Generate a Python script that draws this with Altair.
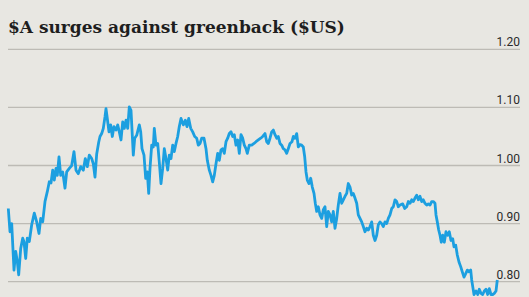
import altair as alt
import pandas as pd

title_text = "$A surges against greenback ($US)"
tick_values = [0.80, 0.90, 1.00, 1.10, 1.20]
tick_labels = ["0.80", "0.90", "1.00", "1.10", "1.20"]

# time index (read positions along the time axis) and AUD/USD values
t = [8.3, 10, 11.7, 14, 15.7, 17.3, 18.7, 20.7, 22.7, 24, 25.7, 27.3, 29.3, 31.7, 34.3, 36.7, 39, 40.7, 42.7,
     45, 47.3, 49.3, 51, 52.7, 54.3, 56, 57.3, 59, 60.7, 62.7, 65, 66.7, 69.3, 71.7, 74, 76, 78.3, 80.7, 83.3,
     85.3, 87.3, 89.3, 91.7, 93.3, 95, 96.7, 98.7, 100,
     101.7, 103.3, 105, 106, 107.3, 109, 110.7, 112.3, 114, 116, 117.7, 119.3, 121, 122.7, 124.3, 126, 127.7,
     129.3, 131, 132.3, 133.3, 134.7, 136.7, 139.3, 140.7, 142, 144, 145.7, 147.3, 148.7, 150, 151.7, 153.3,
     154.3, 156, 157.7, 159.3, 161, 162.7, 164.3, 166, 167.7, 169.3, 171, 172.7, 174.3, 176, 177.7, 179.3,
     181, 183.3, 185.3, 187, 188.7, 190.7, 192.7, 194.7, 196.7, 198.3, 200,
     201.7, 204, 206, 207.3, 209.3, 211, 212.7, 214.3, 216, 217.7, 219.3, 221, 222.7, 224.3, 226, 227.7,
     229.3, 231, 232.7, 234.3, 236, 237.7, 239.3, 241, 242.7, 244.3, 246, 247.3, 249.3, 251.7, 254, 256,
     258.3, 260.7, 262.7, 265, 266.7, 268.3, 270, 271.7, 273.3, 275, 276.7, 278.3, 280, 281.7, 283.3, 285,
     286.7, 288.3, 290, 292, 293.3, 295, 296.7, 298.3, 300,
     301.7, 303.3, 304.7, 306, 307.3, 309, 310.7, 312.3, 314, 315.3, 316.7, 318.3, 320, 321.7, 323.3, 325,
     326.7, 328.3, 330, 331.7, 333.3, 335, 336.7, 338.3, 340, 341.7, 343.3, 345, 346.7, 348.3, 350, 351.7,
     353.3, 355, 356.7, 358.3, 360, 361.7, 363.3, 365, 366.7, 368.3, 370, 371.7, 373.3, 375, 376.7, 378.3,
     380, 381.7, 383.3, 385, 386.7, 388.3, 390, 391.7, 393.3, 395, 396.7, 398.3, 400,
     402.7, 404.7, 406.7, 408.3, 410, 411.7, 413.3, 415, 416.7, 418.3, 420, 421.7, 423.3, 425, 426.7, 428.3,
     430, 431.7, 433.3, 435, 436, 437.3, 438.7, 440, 441.3, 442.7, 444.3, 446, 447.7, 449.3, 451, 452.7, 454,
     455.7, 457.3, 459, 460.7, 462.3, 464, 465.7, 467.3, 469, 470.7, 471.7, 472.7, 474, 476, 477.7, 479.3,
     481, 482.7, 484.3, 486, 487.7, 489.3, 491, 492.7, 494.3, 496, 497.3]

aud = [0.926, 0.886, 0.900, 0.820, 0.852, 0.835, 0.812, 0.857, 0.875, 0.869, 0.840, 0.875, 0.869, 0.898,
       0.918, 0.903, 0.883, 0.909, 0.903, 0.938, 0.955, 0.972, 0.970, 0.992, 0.975, 0.995, 0.983, 1.015,
       0.983, 0.989, 0.961, 0.989, 0.995, 1.000, 1.024, 0.992, 0.986, 0.998, 0.992, 1.012, 0.998, 1.018,
       1.012, 1.003, 0.980, 1.020, 1.040, 1.050,
       1.055, 1.064, 1.084, 1.098, 1.081, 1.058, 1.070, 1.050, 1.067, 1.061, 1.070, 1.058, 1.044, 1.075,
       1.064, 1.078, 1.064, 1.101, 1.095, 1.052, 1.018, 1.047, 1.052, 1.070, 1.058, 1.029, 1.018, 0.978,
       0.989, 0.952, 0.995, 1.035, 1.032, 1.064, 1.035, 1.038, 1.006, 0.969, 0.995, 1.029, 1.012, 0.992,
       1.018, 1.012, 1.035, 1.024, 1.038, 1.050, 1.067, 1.081, 1.070, 1.078, 1.067, 1.081, 1.064, 1.058,
       1.050, 1.047, 1.035, 1.038,
       1.047, 1.047, 1.029, 1.009, 0.992, 0.983, 0.972, 0.983, 1.003, 1.021, 1.009, 1.027, 1.029, 1.021,
       1.041, 1.047, 1.055, 1.058, 1.050, 1.053, 1.035, 1.044, 1.021, 1.053, 1.047, 1.035, 1.029, 1.021,
       1.035, 1.035, 1.038, 1.041, 1.044, 1.047, 1.050, 1.055, 1.041, 1.038, 1.047, 1.058, 1.061, 1.053,
       1.047, 1.050, 1.038, 1.035, 1.029, 1.027, 1.021, 1.029, 1.038, 1.041, 1.050, 1.047, 1.055, 1.032,
       1.036,
       1.035, 1.032, 1.015, 0.989, 0.975, 0.969, 0.978, 0.963, 0.952, 0.935, 0.921, 0.929, 0.915, 0.909,
       0.924, 0.929, 0.895, 0.921, 0.915, 0.903, 0.921, 0.892, 0.909, 0.932, 0.952, 0.935, 0.941, 0.947,
       0.952, 0.969, 0.963, 0.949, 0.952, 0.944, 0.935, 0.915, 0.909, 0.903, 0.895, 0.886, 0.892, 0.889,
       0.895, 0.903, 0.880, 0.871, 0.880, 0.898, 0.903, 0.900, 0.895, 0.903, 0.900, 0.909, 0.915, 0.926,
       0.929, 0.941, 0.938, 0.929, 0.932,
       0.934, 0.926, 0.929, 0.938, 0.935, 0.941, 0.938, 0.944, 0.949, 0.941, 0.947, 0.938, 0.941, 0.935,
       0.932, 0.934, 0.932, 0.938, 0.938, 0.935, 0.915, 0.903, 0.889, 0.880, 0.868, 0.880, 0.868, 0.886,
       0.880, 0.886, 0.871, 0.874, 0.860, 0.863, 0.846, 0.834, 0.826, 0.817, 0.808, 0.814, 0.820, 0.817,
       0.820, 0.803, 0.792, 0.778, 0.784, 0.778, 0.787, 0.780, 0.778, 0.784, 0.787, 0.778, 0.788, 0.778,
       0.778, 0.780, 0.784, 0.803]

W, H = 529, 297
BG = "#e8e7e2"
LINE = "#1c9fe0"
GRID = "#bdbbb5"

series = pd.DataFrame({"t": t, "aud": aud})
ticks = pd.DataFrame({"v": tick_values, "label": tick_labels})

xs = alt.Scale(domain=[0, 529], nice=False, zero=False)
ys = alt.Scale(domain=[0.7737, 1.2849], nice=False, zero=False)

grid = alt.Chart(ticks).mark_rule(color=GRID, strokeWidth=1.3).encode(
    y=alt.Y("v:Q", scale=ys, axis=None),
    x=alt.value(8),
    x2=alt.value(520),
)

labels = alt.Chart(ticks).mark_text(
    align="right", baseline="alphabetic", dy=-3, fontSize=12,
    font="Liberation Sans Narrow, Roboto, sans-serif", color="#2a2a2a"
).encode(
    y=alt.Y("v:Q", scale=ys, axis=None),
    x=alt.value(520),
    text="label:N",
)

line = alt.Chart(series).mark_line(color=LINE, strokeWidth=2.8, strokeJoin="round", clip=True).encode(
    x=alt.X("t:Q", scale=xs, axis=None),
    y=alt.Y("aud:Q", scale=ys, axis=None),
)

title = alt.Chart(pd.DataFrame({"s": [title_text]})).mark_text(
    align="left", baseline="alphabetic", fontSize=17, fontWeight="bold",
    font="DejaVu Serif, serif", color="#1e1e1e"
).encode(x=alt.value(8), y=alt.value(33), text="s:N")

chart = alt.layer(grid, labels, line, title).properties(
    width=W, height=H, background=BG, padding=0,
    autosize=alt.AutoSizeParams(type="none"),
).configure_view(stroke=None)

chart.save("out.html", embed_options={"renderer": "svg", "actions": False})
